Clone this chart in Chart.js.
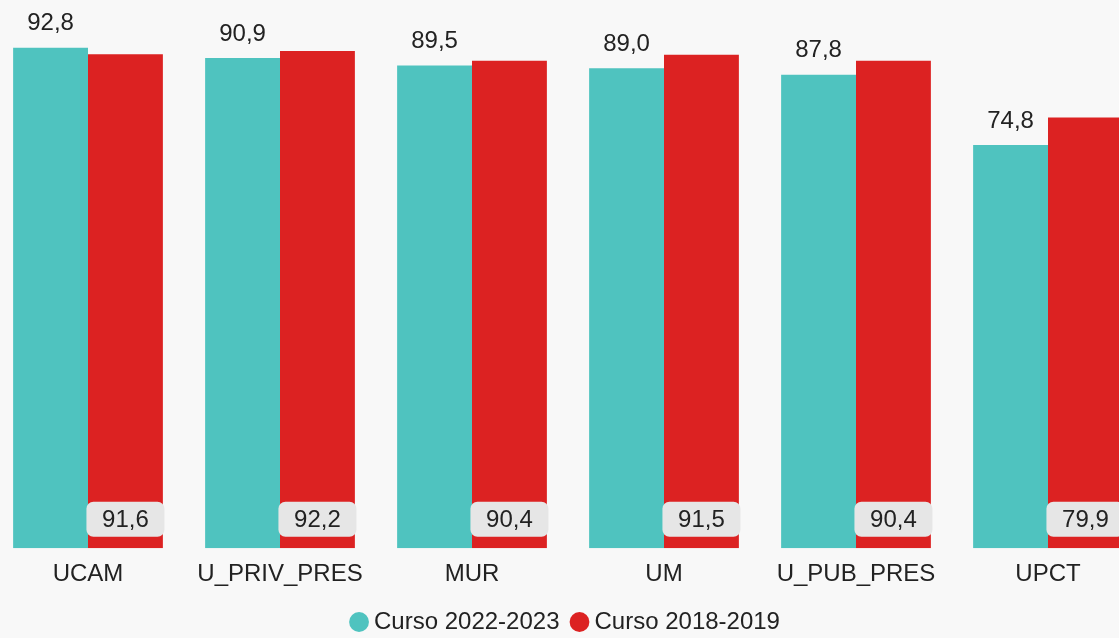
<!DOCTYPE html>
<html>
<head>
<meta charset="utf-8">
<script src="https://cdn.jsdelivr.net/npm/chart.js@4"></script>
<style>
  html, body { margin: 0; padding: 0; background: #f8f8f8; overflow: hidden; }
  #wrap { position: absolute; left: -8px; top: 0; width: 1152px; height: 638px; }
</style>
</head>
<body>
<div id="wrap"><canvas id="myChart"></canvas></div>
<script>
const universities = ['UCAM', 'U_PRIV_PRES', 'MUR', 'UM', 'U_PUB_PRES', 'UPCT'];
const curso2223 = [92.8, 90.9, 89.5, 89.0, 87.8, 74.8];
const curso1819 = [91.6, 92.2, 90.4, 91.5, 90.4, 79.9];
const seriesNames = ['Curso 2022-2023', 'Curso 2018-2019'];

const FONT = '"Liberation Sans", Arial, sans-serif';

function fmt(v) {
  return v.toFixed(1).replace('.', ',');
}

// value labels: first series above the bar, second series in a grey box near the base
const valueLabels = {
  id: 'valueLabels',
  afterDatasetsDraw(chart) {
    const ctx = chart.ctx;
    const yScale = chart.scales.y;
    ctx.save();
    ctx.font = '24px ' + FONT;
    ctx.textAlign = 'center';
    ctx.textBaseline = 'middle';
    chart.getDatasetMeta(0).data.forEach((bar, i) => {
      ctx.fillStyle = '#222';
      ctx.fillText(fmt(curso2223[i]), bar.x, bar.y - 24);
    });
    chart.getDatasetMeta(1).data.forEach((bar, i) => {
      const w = 78, h = 35;
      const cy = yScale.getPixelForValue(0) - 29;
      ctx.fillStyle = '#e6e6e6';
      ctx.beginPath();
      ctx.roundRect(bar.x - w / 2, cy - h / 2, w, h, 7);
      ctx.fill();
      ctx.fillStyle = '#222';
      ctx.fillText(fmt(curso1819[i]), bar.x, cy + 1);
    });
    ctx.restore();
  }
};

new Chart(document.getElementById('myChart'), {
  type: 'bar',
  data: {
    labels: universities,
    datasets: [
      {
        label: seriesNames[0],
        data: curso2223,
        backgroundColor: '#4fc3bf',
        categoryPercentage: 0.78,
        barPercentage: 1.0
      },
      {
        label: seriesNames[1],
        data: curso1819,
        backgroundColor: '#dc2222',
        categoryPercentage: 0.78,
        barPercentage: 1.0
      }
    ]
  },
  options: {
    responsive: true,
    maintainAspectRatio: false,
    animation: false,
    layout: { padding: { top: 9, left: 0, right: 0, bottom: -6 } },
    plugins: {
      legend: {
        position: 'bottom',
        labels: {
          usePointStyle: true,
          pointStyle: 'circle',
          boxWidth: 6,
          boxHeight: 14,
          padding: 17,
          color: '#222',
          font: { size: 24, family: FONT }
        }
      },
      tooltip: { enabled: false }
    },
    scales: {
      x: {
        grid: { display: false },
        border: { display: false },
        ticks: { color: '#222', font: { size: 24, family: FONT }, padding: 4 }
      },
      y: {
        display: false,
        min: 0,
        max: 100
      }
    }
  },
  plugins: [valueLabels]
});
</script>
</body>
</html>
